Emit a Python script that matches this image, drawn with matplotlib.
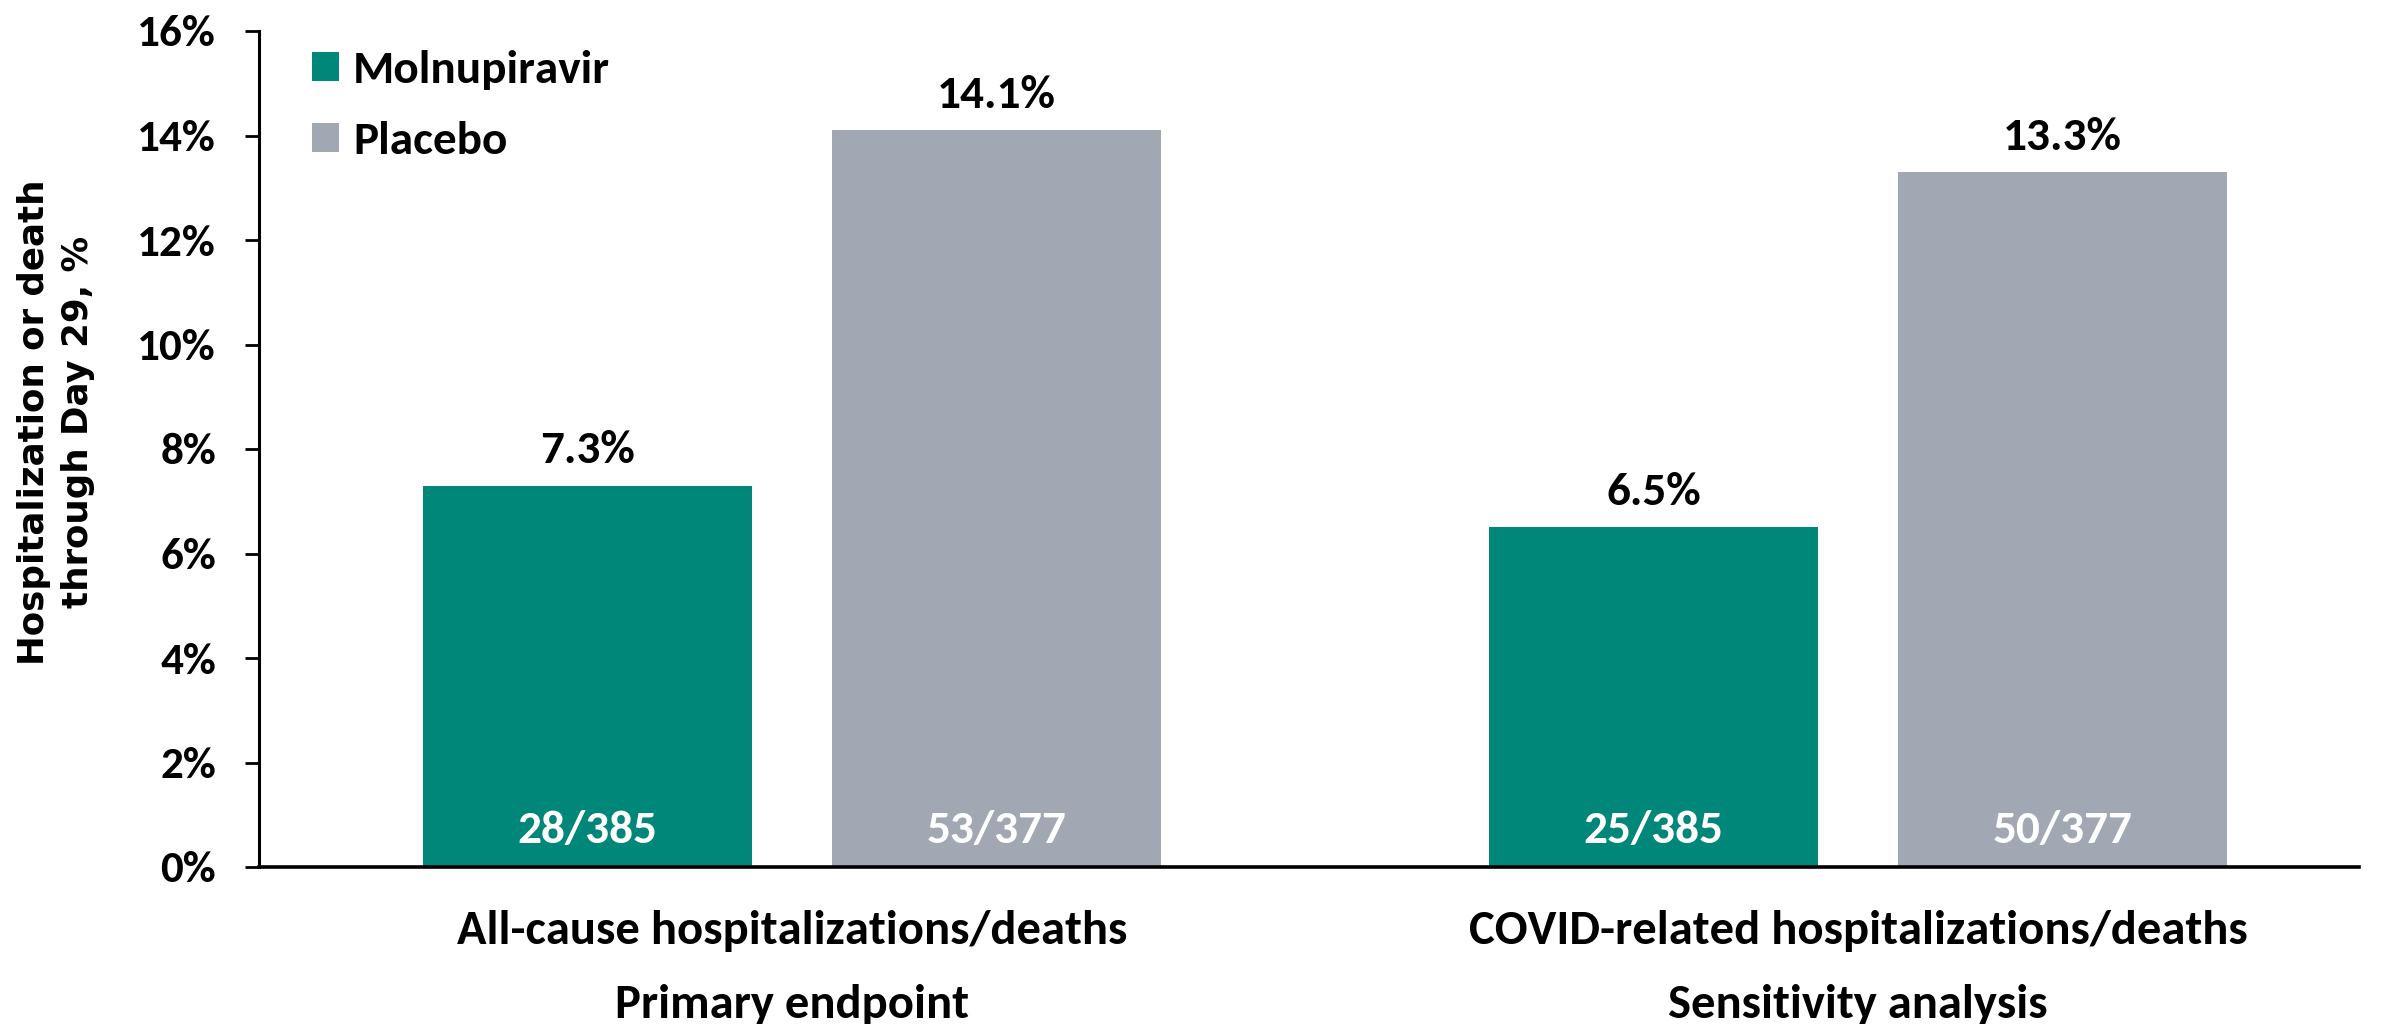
import matplotlib
matplotlib.use("Agg")
import matplotlib.pyplot as plt
from matplotlib.patches import Patch
import numpy as np

categories = ["All-cause hospitalizations/deaths\nPrimary endpoint",
              "COVID-related hospitalizations/deaths\nSensitivity analysis"]
series_names = ["Molnupiravir", "Placebo"]
molnupiravir = [7.3, 6.5]
placebo = [14.1, 13.3]
molnu_frac = ["28/385", "25/385"]
placebo_frac = ["53/377", "50/377"]
yticks = [0, 2, 4, 6, 8, 10, 12, 14, 16]
ylabel = "Hospitalization or death\nthrough Day 29, %"

TEAL = "#00877A"
GRAY = "#A1A7B3"
FONT = ["Carlito", "Lato", "DejaVu Sans"]

plt.rcParams['font.family'] = FONT
plt.rcParams['font.weight'] = 'bold'

W, H = 2394, 1024
fig = plt.figure(figsize=(W / 100, H / 100), dpi=100)
ax = fig.add_axes([259 / W, 1 - 867 / H, 2100 / W, 836 / H])

x = np.arange(len(categories))
off = 0.192
w = 0.3085
b1 = ax.bar(x - off, molnupiravir, w, color=TEAL, label=series_names[0], zorder=2, linewidth=0)
b2 = ax.bar(x + off, placebo, w, color=GRAY, label=series_names[1], zorder=2, linewidth=0)

FS_TICK = 32.5
FS_VAL = 34
FS_CAT = 35
for bars, vals, fracs in ((b1, molnupiravir, molnu_frac), (b2, placebo, placebo_frac)):
    for r, v, f in zip(bars, vals, fracs):
        cx = r.get_x() + r.get_width() / 2
        ax.annotate(f"{v:.1f}%", (cx, v), xytext=(0, 25.5), textcoords="offset points",
                    ha="center", va="center", fontsize=FS_VAL, fontweight="bold")
        ax.text(cx, 0.70, f, ha="center", va="center", fontsize=FS_VAL, fontweight="bold",
                color="white")

ax.set_xlim(-0.5, 1.47)
ax.set_ylim(0, 16)
ax.set_yticks(yticks)
ax.set_yticklabels([f"{t}%" for t in yticks], fontsize=FS_TICK, fontweight="bold")
ax.set_xticks(x)
ax.set_xticklabels(categories, fontsize=FS_CAT, fontweight="bold", linespacing=1.95)
ax.tick_params(axis="x", length=0, pad=31)
ax.tick_params(axis="y", length=10, width=2, direction="out", pad=21)

for s in ("top", "right"):
    ax.spines[s].set_visible(False)
ax.spines["left"].set_linewidth(2.2)
ax.spines["bottom"].set_linewidth(2.6)

fig.text(56 / W, 1 - 422 / H, ylabel, rotation=90, ha="center", va="center",
         multialignment="center", fontsize=25.7, fontweight="bold",
         family=["DejaVu Sans"], linespacing=1.4)

handles = [Patch(facecolor=TEAL, linewidth=0), Patch(facecolor=GRAY, linewidth=0)]
leg = fig.legend(handles, series_names, loc="upper left", bbox_to_anchor=(312 / W, 1 - 50 / H),
                 frameon=False, prop={"weight": "bold", "size": FS_VAL},
                 borderpad=0, borderaxespad=0,
                 handlelength=0.57, handleheight=0.57, handletextpad=0.3, labelspacing=0.66)

fig.savefig("out.png", dpi=100)
